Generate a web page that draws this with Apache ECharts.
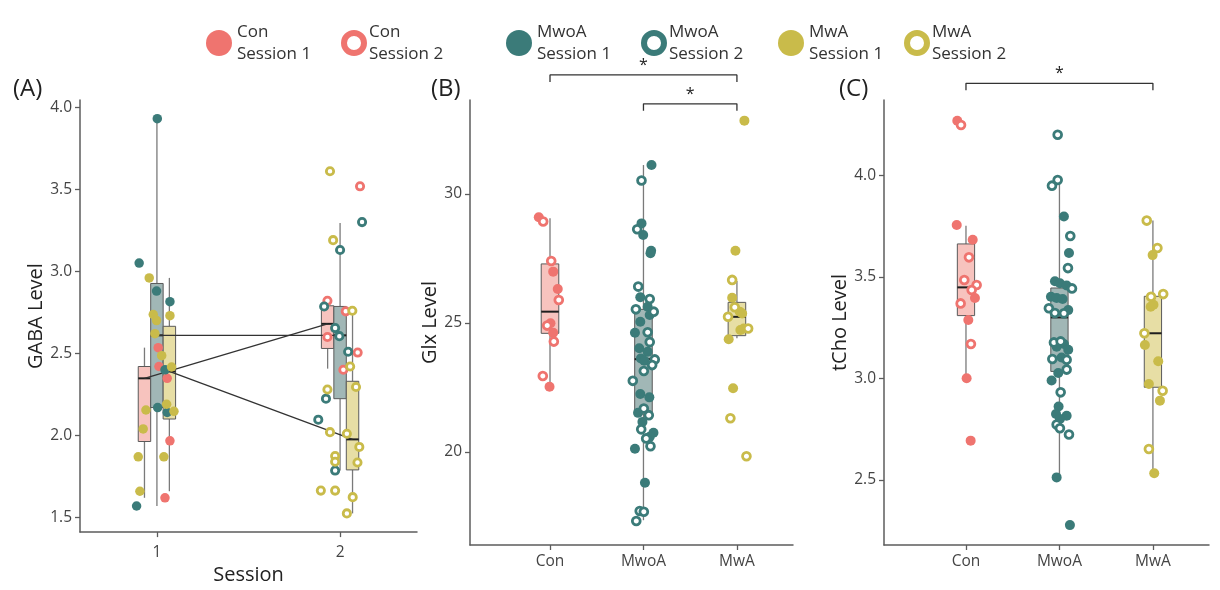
<!DOCTYPE html>
<html><head><meta charset="utf-8">
<script src="https://cdn.jsdelivr.net/npm/echarts@6/dist/echarts.min.js"></script>
<style>html,body{margin:0;padding:0;background:#fff}#c{width:1220px;height:590px}</style>
</head><body><div id="c"></div>
<script>
// ---------- categories / labels ----------
const groups = ['Con', 'MwoA', 'MwA'];
const sessions = ['Session 1', 'Session 2'];
const sessionTicks = [1, 2];
const groupTicks = [1, 2, 3];
const gabaTicks = [1.5, 2.0, 2.5, 3.0, 3.5, 4.0];
const glxTicks = [20, 25, 30];
const tchoTicks = [2.5, 3.0, 3.5, 4.0];

// ---------- Panel A: GABA level by session (x = jittered session position) ----------
const gabaCon1 = [[1.007,2.535],[1.011,2.42],[1.056,2.348],[1.071,1.967],[1.044,1.62]];
const gabaCon2 = [[2.109,3.518],[1.931,2.82],[2.031,2.756],[1.931,2.60],[2.096,2.505],[2.018,2.40]];
const gabaMwoA1 = [[1.002,3.93],[0.903,3.05],[0.998,2.88],[1.071,2.815],[1.044,2.40],[1.004,2.17],[1.056,2.14],[0.889,1.57]];
const gabaMwoA2 = [[2.120,3.30],[2.000,3.13],[1.913,2.786],[1.973,2.654],[1.996,2.605],[2.044,2.51],[1.923,2.224],[1.881,2.096],[1.973,1.786]];
const gabaMwA1 = [[0.958,2.96],[0.980,2.737],[0.998,2.70],[1.071,2.73],[0.989,2.62],[1.026,2.486],[1.080,2.417],[1.053,2.19],[1.093,2.147],[0.940,2.155],[0.925,2.04],[0.898,1.87],[1.038,1.87],[0.907,1.66]];
const gabaMwA2 = [[1.945,3.61],[1.962,3.19],[2.067,2.76],[2.055,2.42],[1.931,2.28],[2.087,2.295],[1.945,2.02],[2.037,2.01],[2.105,1.93],[1.973,1.875],[1.973,1.84],[2.095,1.835],[1.895,1.664],[1.973,1.664],[2.069,1.624],[2.037,1.525]];
// box stats [min, q1, median, q3, max]
const gabaBoxCon1 = [1.62, 1.963, 2.348, 2.42, 2.535];
const gabaBoxMwoA1 = [1.57, 2.17, 2.61, 2.926, 3.93];
const gabaBoxMwA1 = [1.66, 2.10, 2.39, 2.665, 2.96];
const gabaBoxCon2 = [2.407, 2.53, 2.68, 2.79, 2.82];
const gabaBoxMwoA2 = [1.786, 2.224, 2.61, 2.786, 3.295];
const gabaBoxMwA2 = [1.525, 1.79, 1.976, 2.33, 2.76];

// ---------- Panel B: Glx level by group ----------
const glxCon1 = [[0.880,29.10],[1.034,26.99],[1.083,26.32],[1.005,24.99],[1.034,24.62],[0.995,22.53]];
const glxCon2 = [[0.927,28.93],[1.013,27.40],[1.094,25.89],[0.970,24.90],[1.041,24.28],[0.923,22.95]];
const glxMwoA1 = [[2.086,31.12],[1.979,28.86],[1.997,28.41],[2.082,27.80],[2.075,27.70],[1.966,26.0],[2.045,25.63],[2.067,25.31],[1.966,25.05],[1.909,24.62],[1.955,24.02],[2.045,23.89],[1.973,23.63],[2.009,23.54],[1.966,22.25],[2.063,22.12],[1.942,21.52],[1.989,21.17],[2.107,20.75],[2.067,20.59],[1.909,20.13],[2.016,18.81]];
const glxMwoA2 = [[1.979,30.52],[1.933,28.63],[1.944,26.41],[2.067,25.93],[1.919,25.53],[2.110,25.44],[2.045,24.64],[2.067,24.26],[2.121,23.59],[2.093,23.37],[2.004,23.14],[1.886,22.76],[2.004,21.69],[2.057,21.43],[1.976,20.88],[2.029,20.53],[2.075,20.23],[1.960,17.72],[2.004,17.69],[1.923,17.33]];
const glxMwA1 = [[3.080,32.84],[2.984,27.80],[2.949,25.98],[3.030,25.44],[3.056,25.37],[3.037,24.73],[3.073,24.79],[2.912,24.37],[2.959,22.47]];
const glxMwA2 = [[2.949,26.67],[2.977,25.61],[2.905,25.24],[3.120,24.79],[2.930,21.31],[3.102,19.84]];
const glxBoxCon = [22.53, 24.60, 25.44, 27.29, 29.06];
const glxBoxMwoA = [17.36, 21.47, 23.6, 25.53, 31.12];
const glxBoxMwA = [24.41, 24.51, 25.24, 25.80, 26.63];
// significance brackets [fromX, toX, barY, tickEndY]
const glxBrackets = [[1, 3, 34.61, 34.34], [2, 3, 33.49, 33.22]];

// ---------- Panel C: tCho level by group ----------
const tchoCon1 = [[0.907,4.269],[0.901,3.755],[1.072,3.683],[1.096,3.396],[1.025,3.287],[1.007,3.0],[1.050,2.693]];
const tchoCon2 = [[0.947,4.248],[1.032,3.596],[0.982,3.484],[1.114,3.46],[1.061,3.435],[0.943,3.369],[1.053,3.169]];
const tchoMwoA1 = [[2.048,3.797],[2.102,3.617],[1.952,3.478],[2.005,3.468],[2.077,3.457],[1.909,3.402],[1.970,3.396],[2.034,3.391],[2.094,3.336],[1.970,3.156],[2.048,3.169],[2.094,3.141],[2.023,3.103],[1.987,3.026],[1.916,2.989],[1.991,2.861],[1.963,2.824],[2.077,2.816],[2.005,2.80],[1.970,2.512],[2.112,2.277]];
const tchoMwoA2 = [[1.981,4.20],[1.981,3.977],[1.920,3.949],[2.116,3.701],[2.091,3.543],[2.134,3.443],[1.887,3.345],[1.951,3.322],[2.048,3.320],[1.941,3.177],[2.013,3.182],[1.924,3.095],[2.077,3.092],[2.077,3.043],[2.013,2.931],[1.970,2.772],[2.005,2.754],[2.102,2.723]];
const tchoMwA1 = [[2.997,3.607],[2.976,3.353],[3.006,3.362],[2.914,3.164],[3.057,3.084],[2.957,2.972],[3.075,2.89],[3.014,2.532]];
const tchoMwA2 = [[2.934,3.777],[3.048,3.642],[2.980,3.402],[3.110,3.415],[2.909,3.222],[3.104,2.939],[2.957,2.652]];
const tchoBoxCon = [3.0, 3.309, 3.448, 3.662, 3.752];
const tchoBoxMwoA = [2.512, 3.034, 3.30, 3.445, 3.977];
const tchoBoxMwA = [2.532, 2.956, 3.222, 3.404, 3.777];
const tchoBrackets = [[1, 3, 4.453, 4.419]];

// ---------- styling ----------
const FONT = 'Open Sans';
const groupColors = ['#ef746f', '#3b7b79', '#c9bb4a'];
const boxFills = ['#f7c3be', '#a1b7b6', '#e7dea5'];
const dodge = [-0.068, 0, 0.068];
const names = [];
groups.forEach(g => sessions.forEach(s => names.push(g + '\n' + s)));

function boxRenderer(widthUnits) {
  return function (params, api) {
    const x = api.value(0), g = api.value(6);
    const lo = api.coord([x, api.value(1)]);
    const q1 = api.coord([x, api.value(2)]);
    const md = api.coord([x, api.value(3)]);
    const q3 = api.coord([x, api.value(4)]);
    const hi = api.coord([x, api.value(5)]);
    const hw = api.size([widthUnits, 0])[0] / 2;
    const cx = md[0];
    const wsty = { stroke: '#7a7a7a', lineWidth: 1.3 };
    return { type: 'group', children: [
      { type: 'line', shape: { x1: cx, y1: hi[1], x2: cx, y2: q3[1] }, style: wsty },
      { type: 'line', shape: { x1: cx, y1: q1[1], x2: cx, y2: lo[1] }, style: wsty },
      { type: 'rect', shape: { x: cx - hw, y: q3[1], width: 2 * hw, height: q1[1] - q3[1] }, style: { fill: boxFills[g], stroke: '#5a5a5a', lineWidth: 1 } },
      { type: 'line', shape: { x1: cx - hw, y1: md[1], x2: cx + hw, y2: md[1] }, style: { stroke: '#1e1e1e', lineWidth: 2 } }
    ] };
  };
}

function scatter(name, gi, ring, data, axis, size) {
  return {
    type: 'scatter', name: name, xAxisIndex: axis, yAxisIndex: axis, data: data,
    symbol: 'circle', symbolSize: ring ? size - 2.2 : size, z: ring ? 6 : 5, silent: true,
    itemStyle: ring ? { color: '#ffffff', borderColor: groupColors[gi], borderWidth: 2.8, opacity: 1 }
                    : { color: groupColors[gi], borderWidth: 0, opacity: 1 }
  };
}

const series = [];
// Panel A boxes
const gabaBoxes1 = [gabaBoxCon1, gabaBoxMwoA1, gabaBoxMwA1];
const gabaBoxes2 = [gabaBoxCon2, gabaBoxMwoA2, gabaBoxMwA2];
const boxDataA = [];
gabaBoxes1.forEach((b, i) => boxDataA.push([sessionTicks[0] + dodge[i]].concat(b, [i])));
gabaBoxes2.forEach((b, i) => boxDataA.push([sessionTicks[1] + dodge[i]].concat(b, [i])));
series.push({ type: 'custom', xAxisIndex: 0, yAxisIndex: 0, renderItem: boxRenderer(0.068), data: boxDataA, encode: { x: 0, y: [1, 5] }, z: 2, silent: true });
// median connecting lines
groups.forEach((g, i) => {
  series.push({ type: 'line', xAxisIndex: 0, yAxisIndex: 0, symbol: 'none', silent: true, z: 3,
    lineStyle: { color: '#333', width: 1.3 },
    data: [[sessionTicks[0] + dodge[i], gabaBoxes1[i][2]], [sessionTicks[1] + dodge[i], gabaBoxes2[i][2]]] });
});
const gabaPts = [gabaCon1, gabaCon2, gabaMwoA1, gabaMwoA2, gabaMwA1, gabaMwA2];
gabaPts.forEach((d, k) => series.push(scatter(names[k], Math.floor(k / 2), k % 2 === 1, d, 0, 9.5)));

// Panel B
const glxBoxes = [glxBoxCon, glxBoxMwoA, glxBoxMwA];
series.push({ type: 'custom', xAxisIndex: 1, yAxisIndex: 1, renderItem: boxRenderer(0.188),
  data: glxBoxes.map((b, i) => [groupTicks[i]].concat(b, [i])), encode: { x: 0, y: [1, 5] }, z: 2, silent: true });
const glxPts = [glxCon1, glxCon2, glxMwoA1, glxMwoA2, glxMwA1, glxMwA2];
glxPts.forEach((d, k) => series.push(scatter(names[k], Math.floor(k / 2), k % 2 === 1, d, 1, 10)));

// Panel C
const tchoBoxes = [tchoBoxCon, tchoBoxMwoA, tchoBoxMwA];
series.push({ type: 'custom', xAxisIndex: 2, yAxisIndex: 2, renderItem: boxRenderer(0.185),
  data: tchoBoxes.map((b, i) => [groupTicks[i]].concat(b, [i])), encode: { x: 0, y: [1, 5] }, z: 2, silent: true });
const tchoPts = [tchoCon1, tchoCon2, tchoMwoA1, tchoMwoA2, tchoMwA1, tchoMwA2];
tchoPts.forEach((d, k) => series.push(scatter(names[k], Math.floor(k / 2), k % 2 === 1, d, 2, 10)));

// significance brackets
function addBrackets(list, axis) {
  list.forEach(b => {
    series.push({ type: 'line', xAxisIndex: axis, yAxisIndex: axis, symbol: 'none', silent: true, clip: false, z: 4,
      lineStyle: { color: '#333', width: 1.3 },
      data: [[b[0], b[3]], [b[0], b[2]], [b[1], b[2]], [b[1], b[3]]] });
    series.push({ type: 'scatter', xAxisIndex: axis, yAxisIndex: axis, silent: true, clip: false, z: 4,
      symbolSize: 1, itemStyle: { opacity: 0 },
      label: { show: true, formatter: '*', position: 'top', distance: 1, fontSize: 16, color: '#222', fontFamily: FONT, opacity: 1 },
      data: [[(b[0] + b[1]) / 2, b[2]]] });
  });
}
addBrackets(glxBrackets, 1);
addBrackets(tchoBrackets, 2);

// ---------- axes ----------
const axLine = { show: true, onZero: false, lineStyle: { color: '#5c5c5c', width: 1.5 } };
const tickStyle = { color: '#5c5c5c', width: 1.3 };
function xAx(idx, min, max, ticks, fmt, name, margin) {
  return { gridIndex: idx, type: 'value', min: min, max: max, axisLine: axLine,
    axisTick: { show: true, customValues: ticks, length: 5, lineStyle: tickStyle },
    axisLabel: { customValues: ticks, formatter: fmt, fontSize: 15.5, color: '#444', margin: margin, fontFamily: FONT },
    splitLine: { show: false },
    name: name || '', nameLocation: 'middle', nameGap: 26,
    nameTextStyle: { fontSize: 20, color: '#222', fontFamily: FONT } };
}
function yAx(idx, min, max, ticks, fmt, name, gap) {
  return { gridIndex: idx, type: 'value', min: min, max: max, axisLine: axLine,
    axisTick: { show: true, customValues: ticks, length: 5, lineStyle: tickStyle },
    axisLabel: { customValues: ticks, formatter: fmt, fontSize: 15.5, color: '#444', margin: 8, fontFamily: FONT },
    splitLine: { show: false },
    name: name, nameLocation: 'middle', nameGap: gap,
    nameTextStyle: { fontSize: 20, color: '#222', fontFamily: FONT } };
}
const catFmt = v => groups[Math.round(v) - 1];

// ---------- legend ----------
const legendLefts = [201, 336, 501, 636, 773, 899];
const legends = names.map((n, k) => {
  const ring = k % 2 === 1, gi = Math.floor(k / 2);
  return { data: [n], left: legendLefts[k], top: 16, orient: 'horizontal', selectedMode: false,
    icon: 'circle', itemWidth: ring ? 20 : 26, itemHeight: 26,
    itemStyle: ring ? { color: '#ffffff', borderColor: groupColors[gi], borderWidth: 6 } : { color: groupColors[gi], borderWidth: 0 },
    textStyle: { fontSize: 17, lineHeight: 22, color: '#333', fontFamily: FONT } };
});

const option = {
  animation: false,
  backgroundColor: '#ffffff',
  textStyle: { fontFamily: FONT },
  title: [
    { text: '(A)', left: 8, top: 72, textStyle: { fontSize: 24, fontWeight: 'normal', color: '#222', fontFamily: FONT } },
    { text: '(B)', left: 426, top: 72, textStyle: { fontSize: 24, fontWeight: 'normal', color: '#222', fontFamily: FONT } },
    { text: '(C)', left: 834, top: 72, textStyle: { fontSize: 24, fontWeight: 'normal', color: '#222', fontFamily: FONT } }
  ],
  legend: legends,
  grid: [
    { left: 80, width: 337, top: 100, height: 445 },
    { left: 470, width: 323, top: 100, height: 445 },
    { left: 884, width: 325, top: 100, height: 445 }
  ],
  xAxis: [
    xAx(0, 0.58, 2.42, sessionTicks, v => String(Math.round(v)), 'Session', 12),
    xAx(1, 0.144, 3.6, groupTicks, catFmt, '', 9),
    xAx(2, 0.123, 3.6, groupTicks, catFmt, '', 9)
  ],
  yAxis: [
    yAx(0, 1.411, 4.044, gabaTicks, v => v.toFixed(1), 'GABA Level', 32),
    yAx(1, 16.4, 33.64, glxTicks, v => String(v), 'Glx Level', 25),
    yAx(2, 2.179, 4.371, tchoTicks, v => v.toFixed(1), 'tCho Level', 24)
  ],
  series: series
};
const chart = echarts.init(document.getElementById('c'), null, { renderer: 'canvas' });
chart.setOption(option);
</script>
</body></html>
